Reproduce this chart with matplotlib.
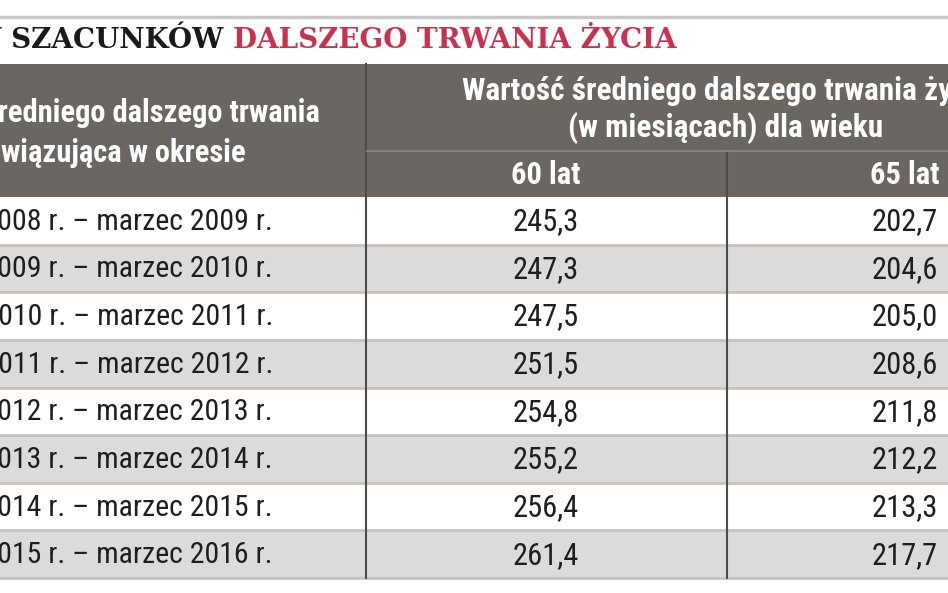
import matplotlib
matplotlib.use("Agg")
import matplotlib.pyplot as plt
from matplotlib import font_manager
from matplotlib.patches import Rectangle

# dane
okresy = [
    "kwiecień 2008 r. – marzec 2009 r.",
    "kwiecień 2009 r. – marzec 2010 r.",
    "kwiecień 2010 r. – marzec 2011 r.",
    "kwiecień 2011 r. – marzec 2012 r.",
    "kwiecień 2012 r. – marzec 2013 r.",
    "kwiecień 2013 r. – marzec 2014 r.",
    "kwiecień 2014 r. – marzec 2015 r.",
    "kwiecień 2015 r. – marzec 2016 r.",
]
wiek_60 = [245.3, 247.3, 247.5, 251.5, 254.8, 255.2, 256.4, 261.4]
wiek_65 = [202.7, 204.6, 205.0, 208.6, 211.8, 212.2, 213.3, 217.7]
kolumny = ["60 lat", "65 lat"]

tytul_czarny = "ZMIANY SZACUNKÓW "
tytul_czerwony = "DALSZEGO TRWANIA ŻYCIA"
naglowek_lewy = ["Tablica średniego dalszego trwania", "życia obowiązująca w okresie"]
naglowek_prawy = ["Wartość średniego dalszego trwania życia", "(w miesiącach) dla wieku"]

names = {f.name for f in font_manager.fontManager.ttflist}


def pick(*cands):
    for c in cands:
        if c in names:
            return c
    return "DejaVu Sans"


body_font = pick("Liberation Sans Narrow", "Roboto Condensed", "Open Sans Condensed", "Roboto")
title_font = pick("DejaVu Serif Condensed", "DejaVu Serif")

HEAD = "#6b6661"
ROW_GRAY = "#dcdbd9"
LINE = "#4e4b48"
RED = "#c8324f"

fig = plt.figure(figsize=(9.48, 5.93), dpi=100)
ax = fig.add_axes([0, 0, 1, 1])
ax.set_xlim(0, 948)
ax.set_ylim(593, 0)
ax.axis("off")

# tytul
ax.plot([0, 948], [17, 17], color="#c9c9c9", lw=2.5)
ax.text(233, 41, tytul_czarny, fontsize=20, fontweight="bold", family=title_font,
        color="#1a1a1a", va="center", ha="right")
ax.text(233, 41, tytul_czerwony, fontsize=20, fontweight="bold", family=title_font,
        color=RED, va="center", ha="left")

# naglowek
top, mid, bot, dol = 64, 151, 197, 578
ax.add_patch(Rectangle((0, top), 948, bot - top, color=HEAD, lw=0))
ax.plot([366, 366], [top, dol], color=LINE, lw=1.5)
ax.plot([727, 727], [mid, dol], color=LINE, lw=1.5)
ax.plot([367, 948], [mid, mid], color="#8d8984", lw=1.2)

ax.text(320, 113, naglowek_lewy[0], fontsize=22, fontweight="bold", family=body_font,
        color="white", ha="right", va="center")
ax.text(246, 153, naglowek_lewy[1], fontsize=22, fontweight="bold", family=body_font,
        color="white", ha="right", va="center")
ax.text(726, 91, naglowek_prawy[0], fontsize=22.5, fontweight="bold", family=body_font,
        color="white", ha="center", va="center")
ax.text(726, 128, naglowek_prawy[1], fontsize=22.5, fontweight="bold", family=body_font,
        color="white", ha="center", va="center")

kol_x = [546, 905]
for x, k in zip(kol_x, kolumny):
    ax.text(x, 175, k, fontsize=22, fontweight="bold", family=body_font,
            color="white", ha="center", va="center")

# wiersze
h = (dol - bot) / len(okresy)
for i, (okres, a, b) in enumerate(zip(okresy, wiek_60, wiek_65)):
    y0 = bot + i * h
    if i % 2 == 1:
        ax.add_patch(Rectangle((0, y0), 948, h, color=ROW_GRAY, lw=0, zorder=0))
    ax.plot([0, 948], [y0 + h, y0 + h], color="#c4c3c1", lw=2, zorder=1)
    yc = y0 + h / 2 + 1
    ax.text(273, yc, okres, fontsize=21.5, family=body_font, color="#1e1e1e",
            ha="right", va="center")
    for x, v in zip(kol_x, (a, b)):
        ax.text(x, yc, f"{v:.1f}".replace(".", ","), fontsize=22, family=body_font,
                color="#1e1e1e", ha="center", va="center")

fig.savefig("out.png", dpi=100)
